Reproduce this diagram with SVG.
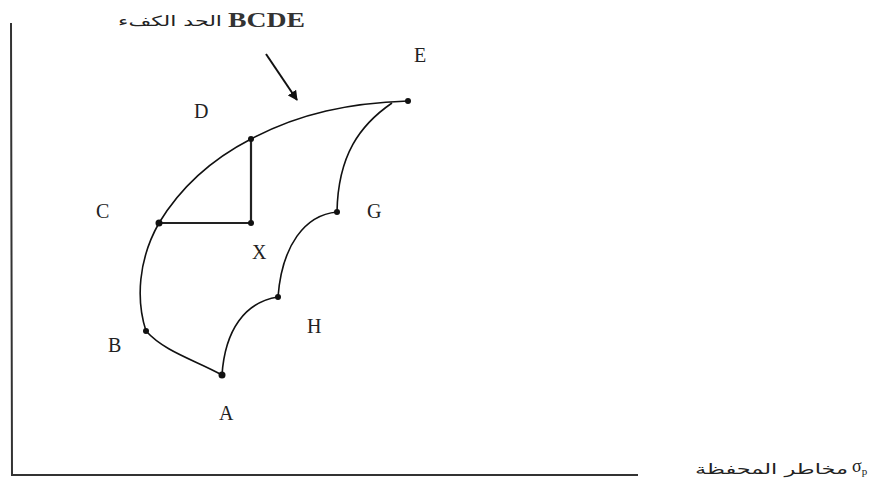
<svg xmlns="http://www.w3.org/2000/svg" width="883" height="493" viewBox="0 0 883 493">
<defs>
<style>
.axis{stroke:#333;stroke-width:2;fill:none}
.curve{stroke:#111;stroke-width:1.6;fill:none}
.seg{stroke:#222;stroke-width:2.2;fill:none}
.dot{fill:#111}
.lbl{font-family:"Liberation Serif","Times New Roman",serif;font-size:20px;fill:#222}
.ar{font-family:"DejaVu Sans","Noto Sans",sans-serif;font-size:14px;fill:#222}
</style>
<marker id="ah" viewBox="0 0 10 10" refX="9" refY="5" markerWidth="5" markerHeight="5" orient="auto">
<path d="M0,0 L10,5 L0,10 z" fill="#111"/>
</marker>
</defs>
<rect width="883" height="493" fill="#fff"/>
<g id="axes">
<path class="axis" d="M11,23 L12,475 L638,475"/>
</g>
<g id="connectors">
<path class="curve" d="M159,223 C185,180 220,155 251,139 C300,113 350,103 408,101"/>
<path class="curve" d="M392,103 C360,125 338,155 337,212"/>
<path class="curve" d="M337,212 C305,215 282,245 278,297"/>
<path class="curve" d="M278,297 C245,302 225,330 222,375"/>
<path class="curve" d="M222,375 C195,360 165,352 146,331"/>
<path class="curve" d="M146,331 C136,300 138,260 159,223"/>
<path class="seg" d="M159,223 L251,223 L251,139"/>
<path d="M266,54 L297,100" stroke="#111" stroke-width="2" fill="none" marker-end="url(#ah)"/>
</g>
<g id="node-E"><circle class="dot" cx="408" cy="101" r="3"/><text class="lbl" x="414" y="62">E</text></g>
<g id="node-D"><circle class="dot" cx="251" cy="139" r="3"/><text class="lbl" x="194" y="118">D</text></g>
<g id="node-C"><circle class="dot" cx="159" cy="223" r="3.5"/><text class="lbl" x="96" y="218">C</text></g>
<g id="node-X"><circle class="dot" cx="251" cy="223" r="3"/><text class="lbl" x="252" y="259">X</text></g>
<g id="node-G"><circle class="dot" cx="337" cy="212" r="3"/><text class="lbl" x="367" y="218">G</text></g>
<g id="node-H"><circle class="dot" cx="278" cy="297" r="3"/><text class="lbl" x="307" y="333">H</text></g>
<g id="node-B"><circle class="dot" cx="146" cy="331" r="3"/><text class="lbl" x="108" y="352">B</text></g>
<g id="node-A"><circle class="dot" cx="222" cy="375" r="3.5"/><text class="lbl" x="219" y="420">A</text></g>
<g id="title">
<text class="ar" x="118" y="26" textLength="104" lengthAdjust="spacingAndGlyphs">الحد الكفء</text>
<text x="228" y="27" textLength="77" lengthAdjust="spacingAndGlyphs" font-family="Liberation Serif, serif" font-size="21" font-weight="bold" fill="#333">BCDE</text>
</g>
<g id="xlabel">
<text class="ar" x="695" y="474" textLength="153" lengthAdjust="spacingAndGlyphs">مخاطر المحفظة</text>
<text class="lbl" x="852" y="472" style="font-size:18px">σ<tspan font-size="11" dy="3">p</tspan></text>
</g>
</svg>
